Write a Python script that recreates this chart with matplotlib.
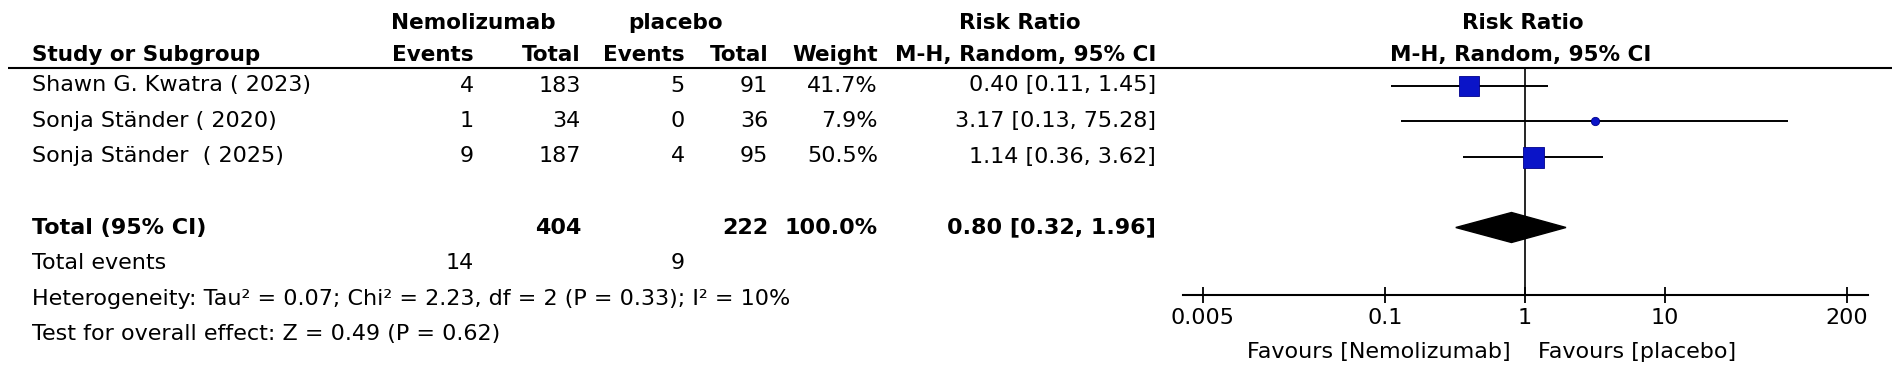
import numpy as np
import matplotlib
matplotlib.use('Agg')
import matplotlib.pyplot as plt
from matplotlib.patches import Polygon
from matplotlib.ticker import NullLocator

plt.rcParams['font.family'] = ['DejaVu Sans', 'Noto Sans CJK SC']

# data
study = ['Shawn G. Kwatra ( 2023)', 'Sonja Ständer ( 2020)', 'Sonja Ständer  ( 2025)']
nemo_events = [4, 1, 9]
nemo_total = [183, 34, 187]
plac_events = [5, 0, 4]
plac_total = [91, 36, 95]
weight = [41.7, 7.9, 50.5]
rr = [0.40, 3.17, 1.14]
rr_lo = [0.11, 0.13, 0.36]
rr_hi = [1.45, 75.28, 3.62]

pooled = [0.80, 0.32, 1.96]
total_n = [404, 222]
total_weight = 100.0
total_ev = [14, 9]
het_text = 'Heterogeneity: Tau² = 0.07; Chi² = 2.23, df = 2 (P = 0.33); I² = 10%'
overall_text = 'Test for overall effect: Z = 0.49 (P = 0.62)'
axis_ticks = [0.005, 0.1, 1, 10, 200]
axis_labels = ['0.005', '0.1', '1', '10', '200']

W, H = 1901, 377
ROW0, PITCH = 85.5, 35.5
def row_of(ypx):
    return (ypx - ROW0) / PITCH

blue = '#0a14c8'
fs = 16
hfs = 15.5

fig = plt.figure(figsize=(W / 100, H / 100), dpi=100)
fig.patch.set_facecolor('white')

# table part, x in pixels, y in row units
ax = fig.add_axes([0, 0, 1, 1])
ax.set_xlim(0, W)
ax.set_ylim(row_of(H), row_of(0))
ax.axis('off')

col = dict(study=32, ne=474, nt=581, pe=685, pt=768, w=878, rr=1156)
h1, h2 = row_of(23), row_of(55)

ax.text(473, h1, 'Nemolizumab', ha='center', va='center', fontsize=hfs, fontweight='bold')
ax.text(676, h1, 'placebo', ha='center', va='center', fontsize=hfs, fontweight='bold')
ax.text(1020, h1, 'Risk Ratio', ha='center', va='center', fontsize=hfs, fontweight='bold')
ax.text(1523, h1, 'Risk Ratio', ha='center', va='center', fontsize=hfs, fontweight='bold')

ax.text(col['study'], h2, 'Study or Subgroup', ha='left', va='center', fontsize=hfs, fontweight='bold')
for key, lab in [('ne', 'Events'), ('nt', 'Total'), ('pe', 'Events'), ('pt', 'Total'),
                 ('w', 'Weight'), ('rr', 'M-H, Random, 95% CI')]:
    ax.text(col[key], h2, lab, ha='right', va='center', fontsize=hfs, fontweight='bold')
ax.text(1521, h2, 'M-H, Random, 95% CI', ha='center', va='center', fontsize=hfs, fontweight='bold')

ax.hlines(-0.5, 8, 1892, color='black', lw=1.5)

for i in range(len(study)):
    ax.text(col['study'], i, study[i], ha='left', va='center', fontsize=fs)
    ax.text(col['ne'], i, str(nemo_events[i]), ha='right', va='center', fontsize=fs)
    ax.text(col['nt'], i, str(nemo_total[i]), ha='right', va='center', fontsize=fs)
    ax.text(col['pe'], i, str(plac_events[i]), ha='right', va='center', fontsize=fs)
    ax.text(col['pt'], i, str(plac_total[i]), ha='right', va='center', fontsize=fs)
    ax.text(col['w'], i, '%.1f%%' % weight[i], ha='right', va='center', fontsize=fs)
    ax.text(col['rr'], i, '%.2f [%.2f, %.2f]' % (rr[i], rr_lo[i], rr_hi[i]),
            ha='right', va='center', fontsize=fs)

tot_row = len(study) + 1
ax.text(col['study'], tot_row, 'Total (95% CI)', ha='left', va='center', fontsize=fs, fontweight='bold')
ax.text(col['nt'], tot_row, str(total_n[0]), ha='right', va='center', fontsize=fs, fontweight='bold')
ax.text(col['pt'], tot_row, str(total_n[1]), ha='right', va='center', fontsize=fs, fontweight='bold')
ax.text(col['w'], tot_row, '%.1f%%' % total_weight, ha='right', va='center', fontsize=fs, fontweight='bold')
ax.text(col['rr'], tot_row, '%.2f [%.2f, %.2f]' % tuple(pooled), ha='right', va='center',
        fontsize=fs, fontweight='bold')

ax.text(col['study'], tot_row + 1, 'Total events', ha='left', va='center', fontsize=fs)
ax.text(col['ne'], tot_row + 1, str(total_ev[0]), ha='right', va='center', fontsize=fs)
ax.text(col['pe'], tot_row + 1, str(total_ev[1]), ha='right', va='center', fontsize=fs)
ax.text(col['study'], tot_row + 2, het_text, ha='left', va='center', fontsize=fs)
ax.text(col['study'], tot_row + 3, overall_text, ha='left', va='center', fontsize=fs)

# forest part, log scale
ax_bottom = 295
fa = fig.add_axes([1183 / W, (H - ax_bottom) / H, 685 / W, (ax_bottom - 67.75) / H])
fa.set_xscale('log')
fa.set_xlim(10 ** -2.4437, 10 ** 2.4499)
fa.set_ylim(row_of(ax_bottom), -0.5)
fa.patch.set_alpha(0)
for s in ['top', 'left', 'right']:
    fa.spines[s].set_visible(False)
fa.spines['bottom'].set_linewidth(1.5)
fa.set_yticks([])
fa.set_xticks(axis_ticks)
fa.set_xticklabels(axis_labels, fontsize=fs)
fa.xaxis.set_minor_locator(NullLocator())
fa.tick_params(axis='x', direction='inout', length=11, width=1.3, pad=4)

fa.axvline(1, color='black', lw=1.2, zorder=1)
rows = np.arange(len(study))
fa.hlines(rows, rr_lo, rr_hi, color='black', lw=1.4, zorder=2)
for i in range(len(study)):
    side = 21 * np.sqrt(weight[i] / max(weight)) * 0.72
    mk = 's' if side > 8 else 'o'
    fa.plot(rr[i], i, marker=mk, ms=side, color=blue, mec='#00008a', mew=0.6, zorder=3)

dh = 15 / PITCH
dia = Polygon([(pooled[1], tot_row), (pooled[0], tot_row - dh),
               (pooled[2], tot_row), (pooled[0], tot_row + dh)],
              closed=True, facecolor='black', edgecolor='black', zorder=3)
fa.add_patch(dia)

fav_row = row_of(352)
fa.annotate('Favours [Nemolizumab]', xy=(1, fav_row), xytext=(-14, 0), textcoords='offset pixels',
            ha='right', va='center', fontsize=fs, annotation_clip=False)
fa.annotate('Favours [placebo]', xy=(1, fav_row), xytext=(13, 0), textcoords='offset pixels',
            ha='left', va='center', fontsize=fs, annotation_clip=False)

fig.savefig('out.png', dpi=100, facecolor='white')
